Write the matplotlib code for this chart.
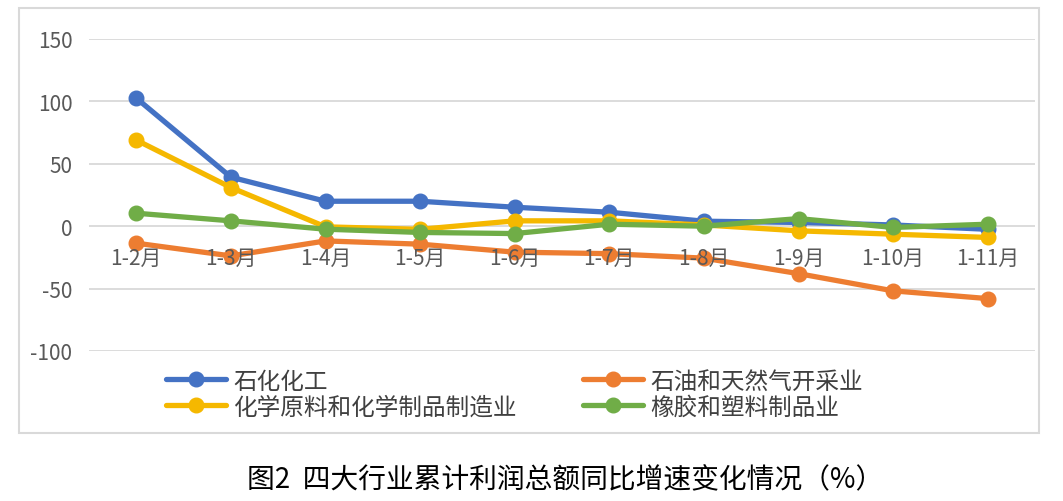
import matplotlib
matplotlib.use("Agg")
import matplotlib.pyplot as plt
from matplotlib.patches import Rectangle

plt.rcParams['font.family'] = ['Noto Sans CJK SC', 'DejaVu Sans']

categories = ["1-2月", "1-3月", "1-4月", "1-5月", "1-6月", "1-7月", "1-8月", "1-9月", "1-10月", "1-11月"]
series_names = ["石化化工", "石油和天然气开采业", "化学原料和化学制品制造业", "橡胶和塑料制品业"]
petrochem = [102.6, 39.3, 20.0, 20.0, 15.2, 11.2, 4.0, 3.0, 1.0, -2.5]
oil_gas = [-13.6, -23.8, -11.8, -14.4, -20.8, -22.0, -25.6, -38.0, -51.8, -58.0]
chem_materials = [69.0, 31.0, -0.5, -2.5, 4.3, 4.3, 1.0, -3.7, -6.4, -9.0]
rubber_plastic = [10.4, 4.3, -2.4, -5.0, -5.9, 1.6, 0.0, 6.1, -1.0, 1.6]
yticks = [-100, -50, 0, 50, 100, 150]
title = "图2  四大行业累计利润总额同比增速变化情况（%）"

colors = ["#4472C4", "#ED7D31", "#F5B800", "#70AD47"]
data = [petrochem, oil_gas, chem_materials, rubber_plastic]

fig = plt.figure(figsize=(10.63, 5.02), dpi=100)
ax = fig.add_axes([89/1063, 1-352/502, (1035-89)/1063, (352-40)/502])

x = list(range(len(categories)))
lines = []
for vals, c, name in zip(data, colors, series_names):
    ln, = ax.plot(x, vals, color=c, lw=3.8, marker='o', markersize=10.5,
                  solid_capstyle='round', label=name, clip_on=False)
    lines.append(ln)

ax.set_xlim(-0.5, len(categories) - 0.5)
ax.set_ylim(-100, 150)
ax.set_yticks(yticks)
ax.set_yticklabels([str(v) for v in yticks])
ax.yaxis.grid(True, color="#D9D9D9", lw=1.3)
ax.set_axisbelow(True)
ax.xaxis.set_zorder(5)
for s in ['left', 'right', 'top']:
    ax.spines[s].set_visible(False)
ax.spines['bottom'].set_position(('data', 0))
ax.spines['bottom'].set_visible(False)
ax.set_xticks(x)
ax.set_xticklabels(categories)
ax.tick_params(axis='both', length=0, labelcolor="#595959", labelsize=15)
ax.tick_params(axis='y', pad=12)
ax.tick_params(axis='x', pad=15)

order = [0, 2, 1, 3]
leg = fig.legend([lines[i] for i in order], [series_names[i] for i in order],
                 ncol=2, loc='center left', bbox_to_anchor=(166/1063, 1-395/502),
                 frameon=False, fontsize=17, handlelength=2.55, handletextpad=0.3,
                 columnspacing=2.8, labelspacing=0.12, borderpad=0, borderaxespad=0)
for t in leg.get_texts():
    t.set_color("#404040")

fig.patches.append(Rectangle((19/1063, 1-434/502), (1039-19)/1063, (434-9)/502,
                             transform=fig.transFigure, fill=False,
                             edgecolor="#D9D9D9", lw=1.5))

fig.text(565/1063, 1-480/502, title, ha='center', va='center', fontsize=20, color="#000000")

fig.savefig("out.png", dpi=100)
